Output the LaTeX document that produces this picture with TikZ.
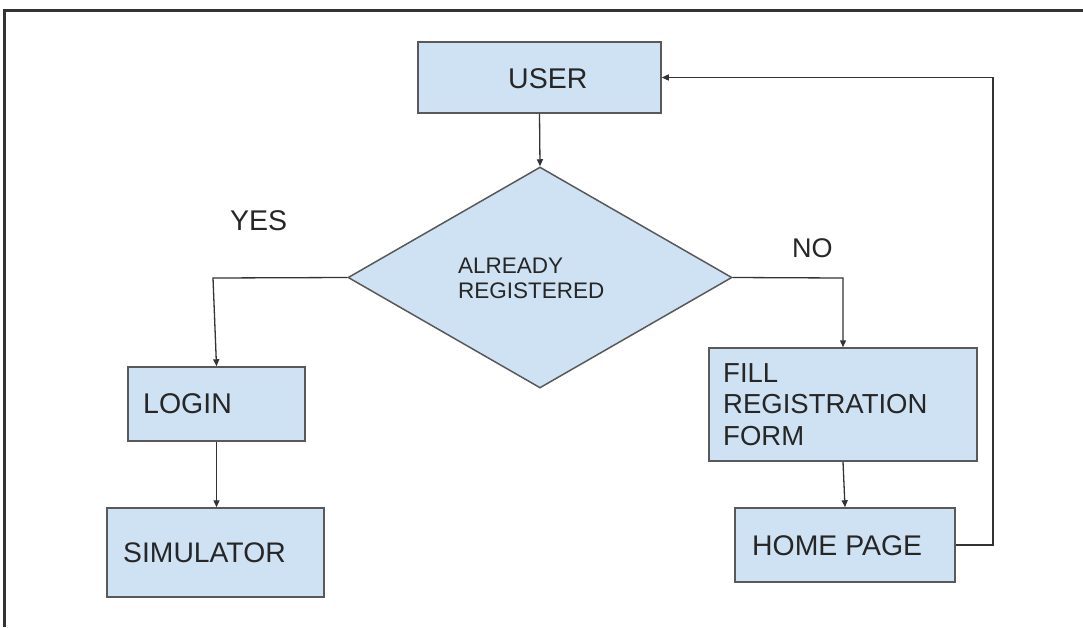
\documentclass[tikz,border=0pt]{standalone}
\usepackage{fontspec}
\setmainfont{Liberation Sans}
\usetikzlibrary{shapes.geometric,arrows.meta}
\definecolor{boxfill}{HTML}{CFE2F3}
\definecolor{boxline}{HTML}{595959}
\definecolor{conn}{HTML}{333333}
\definecolor{txt}{HTML}{262626}
\tikzset{
  box/.style={draw=boxline, fill=boxfill, line width=1.5pt, inner sep=0pt, rectangle},
  dia/.style={draw=boxline, fill=boxfill, line width=1.5pt, inner sep=0pt, diamond},
  arr/.style={draw=conn, line width=1.3pt, -{Triangle[length=7pt,width=6pt]}},
  ln/.style={draw=conn, line width=1.3pt},
  lbl/.style={anchor=base west, inner sep=0pt, text=txt},
}
\begin{document}
\begin{tikzpicture}[x=1pt,y=-1pt]
\useasboundingbox (0,0) rectangle (1083,627);
% frame
\draw[line width=3pt, black!80] (4,627) -- (4,10) -- (1083,10);
% boxes
\node[box, minimum width=243pt, minimum height=71pt] (user) at (539.5,77.5) {};
\node[dia, minimum width=384pt, minimum height=221pt] (dia) at (540,277.5) {};
\node[box, minimum width=177pt, minimum height=74pt] (login) at (216.5,404) {};
\node[box, minimum width=217pt, minimum height=89pt] (sim) at (215.5,552.5) {};
\node[box, minimum width=268pt, minimum height=113pt] (fill) at (843,404.5) {};
\node[box, minimum width=220pt, minimum height=74pt] (home) at (845,545) {};
% texts
\node[lbl, font=\fontsize{28.5}{30}\selectfont] (tuser) at (508,88) {USER};
\node[lbl, font=\fontsize{22.5}{24}\selectfont] (talr) at (458,273) {ALREADY};
\node[lbl, font=\fontsize{22.5}{24}\selectfont] (treg) at (458,298) {REGISTERED};
\node[lbl, font=\fontsize{28.5}{30}\selectfont] (tyes) at (230,230) {YES};
\node[lbl, font=\fontsize{27}{30}\selectfont] (tno) at (792,257) {NO};
\node[lbl, font=\fontsize{28.5}{30}\selectfont] (tlogin) at (143,413) {LOGIN};
\node[lbl, font=\fontsize{28.3}{30}\selectfont] (tsim) at (123,562) {SIMULATOR};
\node[lbl, font=\fontsize{27.5}{30}\selectfont] (tfill) at (723,382) {FILL};
\node[lbl, font=\fontsize{27.5}{30}\selectfont] (tregf) at (723,413) {REGISTRATION};
\node[lbl, font=\fontsize{27.5}{30}\selectfont] (tform) at (723,445) {FORM};
\node[lbl, font=\fontsize{28.4}{30}\selectfont] (thome) at (752,555) {HOME PAGE};
% connectors
\coordinate (yesc) at (213,278);
\coordinate (noc) at (843,278);
\coordinate (loopa) at (993,545);
\coordinate (loopb) at (993,77.5);
\draw[arr] (user.south) -- (dia.north);
\draw[arr] (dia.west) -- (yesc) -- (login.north);
\draw[arr] (login.south) -- (login.south |- sim.north);
\draw[arr] (dia.east) -- (noc) -- (fill.north);
\draw[arr] (fill.south) -- (home.north);
\draw[arr] (home.east) -- (loopa) -- (loopb) -- (user.east);
\end{tikzpicture}
\end{document}
